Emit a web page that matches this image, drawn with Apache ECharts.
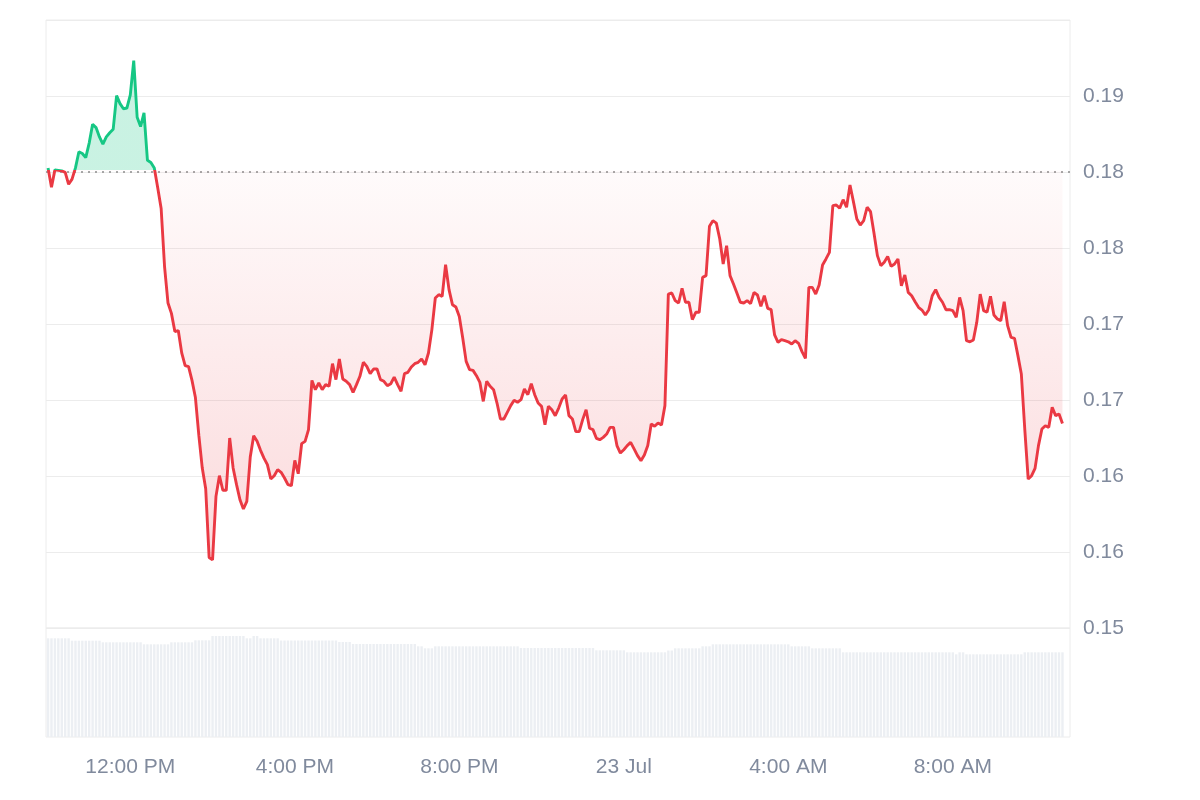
<!DOCTYPE html>
<html><head><meta charset="utf-8">
<script src="https://cdn.jsdelivr.net/npm/echarts@6/dist/echarts.min.js"></script>
<style>html,body{margin:0;padding:0;background:#fff}#c{width:1200px;height:800px}</style>
</head><body><div id="c"></div>
<script>
// time in minutes since 22 Jul 00:00, 5-minute samples
const startMinute = 600;
const stepMinutes = 5;
const baseline = 0.1801;

const prices = [
0.18027,0.17900,0.18014,0.18011,0.18007,0.17998,0.17919,0.17953,0.18027,0.18133,
0.18122,0.18095,0.18190,0.18314,0.18292,0.18231,0.18183,0.18231,0.18258,0.18281,
0.18502,0.18450,0.18416,0.18421,0.18507,0.18733,0.18360,0.18299,0.18389,0.18077,
0.18063,0.18027,0.17896,0.17760,0.17376,0.17138,0.17070,0.16950,0.16957,0.16810,
0.16726,0.16719,0.16629,0.16516,0.16267,0.16052,0.15916,0.15464,0.15448,0.15866,
0.16002,0.15906,0.15906,0.16250,0.16053,0.15943,0.15844,0.15783,0.15833,0.16125,
0.16265,0.16228,0.16169,0.16118,0.16075,0.15980,0.16002,0.16042,0.16024,0.15987,
0.15943,0.15936,0.16103,0.16015,0.16213,0.16228,0.16305,0.16629,0.16568,0.16612,
0.16568,0.16601,0.16590,0.16739,0.16634,0.16770,0.16638,0.16623,0.16601,0.16550,
0.16601,0.16656,0.16748,0.16721,0.16673,0.16704,0.16704,0.16634,0.16623,0.16594,
0.16607,0.16651,0.16601,0.16557,0.16673,0.16682,0.16717,0.16739,0.16748,0.16770,
0.16732,0.16809,0.16963,0.17171,0.17193,0.17182,0.17390,0.17226,0.17127,0.17112,
0.17050,0.16908,0.16754,0.16700,0.16695,0.16660,0.16616,0.16491,0.16623,0.16590,
0.16568,0.16480,0.16375,0.16375,0.16419,0.16463,0.16498,0.16485,0.16502,0.16572,
0.16535,0.16607,0.16535,0.16480,0.16458,0.16338,0.16458,0.16436,0.16397,0.16447,
0.16507,0.16533,0.16397,0.16375,0.16292,0.16292,0.16371,0.16436,0.16314,0.16305,
0.16248,0.16239,0.16254,0.16276,0.16320,0.16320,0.16200,0.16151,0.16173,0.16200,
0.16221,0.16178,0.16134,0.16101,0.16138,0.16200,0.16342,0.16327,0.16349,0.16336,
0.16463,0.17197,0.17204,0.17154,0.17138,0.17235,0.17143,0.17143,0.17029,0.17077,
0.17077,0.17307,0.17318,0.17643,0.17680,0.17664,0.17559,0.17395,0.17515,0.17318,
0.17263,0.17204,0.17143,0.17138,0.17154,0.17134,0.17208,0.17191,0.17116,0.17186,
0.17103,0.17094,0.16928,0.16879,0.16897,0.16890,0.16883,0.16868,0.16890,0.16873,
0.16818,0.16774,0.17241,0.17241,0.17197,0.17257,0.17388,0.17428,0.17471,0.17779,
0.17783,0.17761,0.17818,0.17768,0.17914,0.17805,0.17691,0.17651,0.17680,0.17768,
0.17739,0.17599,0.17450,0.17384,0.17406,0.17445,0.17379,0.17395,0.17428,0.17252,
0.17322,0.17208,0.17186,0.17147,0.17110,0.17092,0.17059,0.17094,0.17186,0.17226,
0.17175,0.17143,0.17094,0.17094,0.17088,0.17044,0.17175,0.17088,0.16890,0.16883,
0.16895,0.17011,0.17197,0.17088,0.17077,0.17182,0.17059,0.17033,0.17022,0.17147,
0.16989,0.16912,0.16906,0.16792,0.16671,0.16309,0.15980,0.16002,0.16050,0.16200,
0.16309,0.16331,0.16320,0.16452,0.16397,0.16408,0.16345
];

const volumes = [
98.7,98.7,98.7,98.7,98.7,98.7,98.7,
96.3,96.3,96.3,96.3,96.3,96.3,96.3,96.3,96.3,
94.7,94.7,94.7,94.7,94.7,94.7,94.7,94.7,94.7,94.7,94.7,94.7,
92.7,92.7,92.7,92.7,92.7,92.7,92.7,92.7,
94.7,94.7,94.7,94.7,94.7,94.7,94.7,
96.7,96.7,96.7,96.7,96.7,
101,101,101,101,101,101,101,101,101,101,
98.7,98.7,
101,101,
98.7,98.7,98.7,98.7,98.7,98.7,
96.5,96.5,96.5,96.5,96.5,96.5,96.5,96.5,96.5,96.5,96.5,96.5,96.5,96.5,96.5,96.5,96.5,
95,95,95,95,
93,93,93,93,93,93,93,93,93,93,93,93,93,93,93,93,93,93,93,
90.7,90.7,
88.7,88.7,88.7,
90.7,90.7,90.7,90.7,90.7,90.7,90.7,90.7,90.7,90.7,90.7,90.7,90.7,90.7,90.7,90.7,90.7,90.7,90.7,90.7,90.7,90.7,90.7,90.7,90.7,
89,89,89,89,89,89,89,89,89,89,89,89,89,89,89,89,89,89,89,89,89,89,
86.7,86.7,86.7,86.7,86.7,86.7,86.7,86.7,86.7,
84.7,84.7,84.7,84.7,84.7,84.7,84.7,84.7,84.7,84.7,84.7,84.7,
86.5,86.5,
88.7,88.7,88.7,88.7,88.7,88.7,88.7,88.7,
90.7,90.7,90.7,
92.7,92.7,92.7,92.7,92.7,92.7,92.7,92.7,92.7,92.7,92.7,92.7,92.7,92.7,92.7,92.7,92.7,92.7,92.7,92.7,92.7,92.7,92.7,
90.7,90.7,90.7,90.7,90.7,90.7,
88.7,88.7,88.7,88.7,88.7,88.7,88.7,88.7,88.7,
84.7,84.7,84.7,84.7,84.7,84.7,84.7,84.7,84.7,84.7,84.7,84.7,84.7,84.7,84.7,84.7,84.7,84.7,84.7,84.7,84.7,84.7,84.7,84.7,84.7,84.7,84.7,84.7,84.7,84.7,84.7,84.7,84.7,
82.7,
84.7,84.7,
82.7,82.7,82.7,82.7,82.7,82.7,82.7,82.7,82.7,82.7,82.7,82.7,82.7,82.7,82.7,82.7,82.7,
84.7,84.7,84.7,84.7,84.7,84.7,84.7,84.7,84.7,84.7,84.7,84.7
];

const xTickValues = [720, 960, 1200, 1440, 1680, 1920];
const xTickLabels = ['12:00 PM', '4:00 PM', '8:00 PM', '23 Jul', '4:00 AM', '8:00 AM'];
const xMin = 597, xMax = 2091, xStep = 3;
const yMin = 0.15, yMax = 0.19, yStep = 0.005;

const times = prices.map((_, i) => startMinute + i * stepMinutes);
const priceData = prices.map((v, i) => [times[i], v]);
const volData = volumes.map((v, i) => [startMinute + i * stepMinutes, v]);

const GREEN = '#16c784', RED = '#ea3943', LABEL = '#808a9d', FONT = '"Liberation Sans", Arial, sans-serif';
const gTop = 20, gBottom = 628;
const baseOff = (yMax - baseline) / (yMax - yMin);

const chart = echarts.init(document.getElementById('c'), null, {renderer: 'canvas'});
chart.setOption({
  animation: false,
  backgroundColor: '#fff',
  textStyle: {fontFamily: FONT},
  grid: [
    {left: 46, right: 130, top: gTop, height: gBottom - gTop, show: true, borderColor: '#ececec', borderWidth: 1},
    {left: 46, right: 130, top: gBottom, height: 109, show: true, borderColor: '#ececec', borderWidth: 1}
  ],
  xAxis: [
    {gridIndex: 0, type: 'value', min: xMin, max: xMax, show: false},
    {gridIndex: 1, type: 'value', min: xMin, max: xMax, interval: xStep,
      axisLine: {show: false}, axisTick: {show: false}, splitLine: {show: false},
      axisLabel: {interval: 0, showMinLabel: true, showMaxLabel: true, color: LABEL, fontSize: 21, margin: 20, fontFamily: FONT,
        formatter: v => { const k = xTickValues.indexOf(Math.round(v)); return k >= 0 ? xTickLabels[k] : ''; }}}
  ],
  yAxis: [
    {gridIndex: 0, type: 'value', position: 'right', min: yMin, max: yMax, interval: yStep,
      axisLine: {show: false}, axisTick: {show: false},
      splitLine: {lineStyle: {color: '#ececec', width: 1}},
      axisLabel: {color: LABEL, fontSize: 21, margin: 13, fontFamily: FONT,
        formatter: v => v > yMax - yStep / 2 ? '' : (Math.round(v * 100 + 1e-6) / 100).toFixed(2)}},
    {gridIndex: 1, type: 'value', min: 0, max: 109, show: false}
  ],
  series: [
    {
      type: 'line', xAxisIndex: 0, yAxisIndex: 0, data: priceData,
      showSymbol: false, symbol: 'none', z: 5,
      lineStyle: {
        width: 2.9,
        color: new echarts.graphic.LinearGradient(0, gTop, 0, gBottom, [
          {offset: 0, color: GREEN}, {offset: baseOff, color: GREEN},
          {offset: baseOff, color: RED}, {offset: 1, color: RED}
        ], true)
      },
      areaStyle: {
        origin: baseline,
        color: new echarts.graphic.LinearGradient(0, gTop, 0, gBottom, [
          {offset: 0, color: 'rgba(22,199,132,0.33)'},
          {offset: baseOff, color: 'rgba(22,199,132,0.33)'},
          {offset: baseOff, color: 'rgba(234,57,67,0.03)'},
          {offset: 0.89, color: 'rgba(234,57,67,0.27)'},
          {offset: 1, color: 'rgba(234,57,67,0.3)'}
        ], true)
      },
      markLine: {
        silent: true, symbol: ['none', 'none'], label: {show: false},
        lineStyle: {type: [2, 5], color: '#8c8c8c', width: 1.6},
        data: [{yAxis: baseline}]
      }
    },
    {
      type: 'bar', xAxisIndex: 1, yAxisIndex: 1, data: volData,
      barWidth: 2.4, silent: true,
      itemStyle: {color: '#eceff3'}
    }
  ]
});
</script>
</body></html>
